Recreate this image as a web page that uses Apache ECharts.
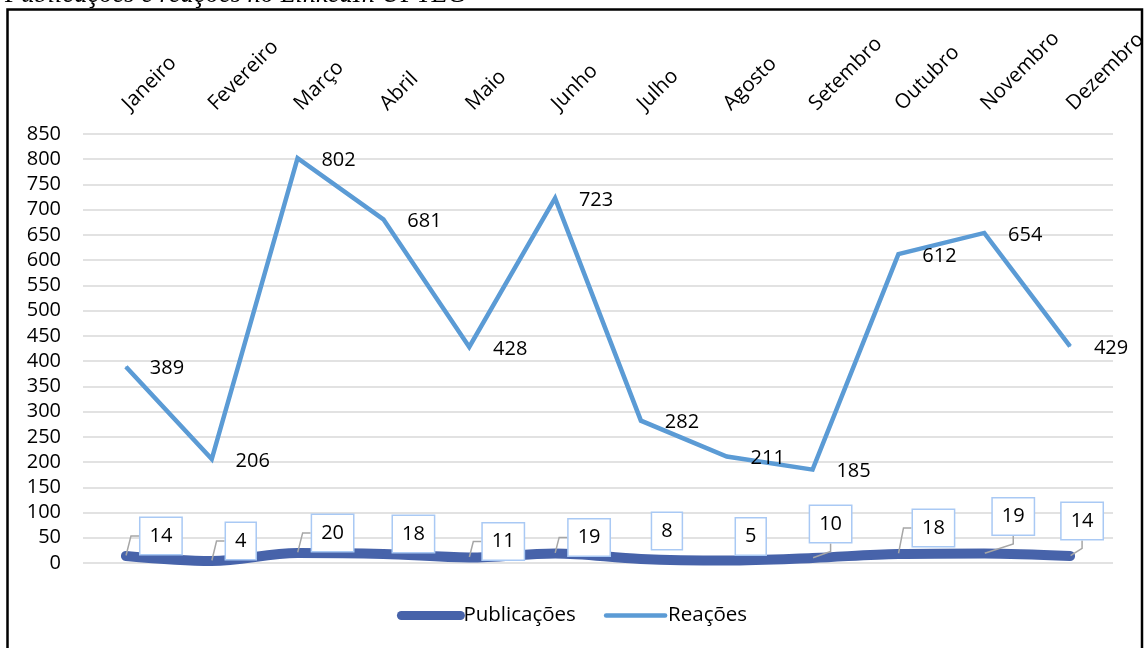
<!DOCTYPE html>
<html>
<head>
<meta charset="utf-8">
<script src="https://cdn.jsdelivr.net/npm/echarts@6/dist/echarts.min.js"></script>
<style>
  html, body { margin: 0; padding: 0; background: #fff; }
  #chart { width: 1144px; height: 648px; }
</style>
</head>
<body>
<div id="chart"></div>
<script>
// Monthly LinkedIn activity: posts published and reactions received
const months = ['Janeiro', 'Fevereiro', 'Março', 'Abril', 'Maio', 'Junho',
  'Julho', 'Agosto', 'Setembro', 'Outubro', 'Novembro', 'Dezembro'];
const publicacoes = [14, 4, 20, 18, 11, 19, 8, 5, 10, 18, 19, 14];
const reacoes = [389, 206, 802, 681, 428, 723, 282, 211, 185, 612, 654, 429];
const yTicks = { min: 0, max: 850, step: 50 };

// Callout placement for the boxed post-count labels (pixels from the point)
const pubLabelShift = [
  [35, -20], [29, -20], [35, -20], [30, -20], [34, -16], [34, -16],
  [26, -28], [24, -24], [18, -34], [35, -26], [29, -37], [12, -35]
];
// Which callouts get a leader line
const pubLeader = [true, true, true, false, true, true, false, false, true, true, true, true];

const font = 'Open Sans';
const pubColor = '#4763aa';
const reaColor = '#5b9bd5';
const chart = echarts.init(document.getElementById('chart'), null, { renderer: 'canvas' });

const pubData = publicacoes.map((v, i) => ({ value: v, labelLine: { show: pubLeader[i] } }));

chart.setOption({
  animation: false,
  backgroundColor: '#ffffff',
  grid: { left: 83, right: 31, top: 134, bottom: 85, outerBoundsMode: 'none', containLabel: false },
  xAxis: {
    type: 'category',
    position: 'top',
    data: months,
    boundaryGap: true,
    axisLine: { show: false },
    axisTick: { show: false },
    axisLabel: { rotate: 45, margin: 27, color: '#000', fontFamily: font, fontSize: 20.5 }
  },
  yAxis: {
    type: 'value',
    min: yTicks.min,
    max: yTicks.max,
    interval: yTicks.step,
    axisLine: { show: false },
    axisTick: { show: false },
    axisLabel: { margin: 22, color: '#000', fontFamily: font, fontSize: 20 },
    splitLine: { lineStyle: { color: '#d9d9d9', width: 1.5 } }
  },
  legend: {
    top: 600,
    left: 'center',
    itemWidth: 59,
    itemHeight: 14,
    itemGap: 28,
    textStyle: { fontFamily: font, fontSize: 20.5, color: '#000', padding: [0, 0, 0, -2] },
    data: [
      {
        name: 'Publicações',
        itemStyle: { opacity: 0 },
        lineStyle: { color: pubColor, width: 9, cap: 'round' }
      },
      {
        name: 'Reações',
        itemStyle: { opacity: 0 },
        lineStyle: { color: reaColor, width: 4.5, cap: 'round' }
      }
    ]
  },
  series: [
    {
      name: 'Reações',
      type: 'line',
      data: reacoes,
      smooth: false,
      symbol: 'circle',
      symbolSize: 1,
      showSymbol: true,
      itemStyle: { color: reaColor },
      lineStyle: { color: reaColor, width: 4.5, join: 'miter' },
      label: {
        show: true,
        position: 'inside',
        offset: [41, 2],
        color: '#000',
        fontFamily: font,
        fontSize: 20
      },
      emphasis: { disabled: true },
      z: 2
    },
    {
      name: 'Publicações',
      type: 'line',
      data: pubData,
      smooth: 0.35,
      symbol: 'circle',
      symbolSize: 1,
      showSymbol: true,
      itemStyle: { color: pubColor },
      lineStyle: { color: pubColor, width: 10, cap: 'round' },
      label: {
        show: true,
        position: 'inside',
        color: '#000',
        fontFamily: font,
        fontSize: 20,
        backgroundColor: '#fff',
        borderColor: '#a9c9f4',
        borderWidth: 1.5,
        padding: [8, 9, 8, 9]
      },
      labelLine: {
        show: true,
        length2: 8,
        lineStyle: { color: '#a6a6a6', width: 1.5 }
      },
      labelLayout: function (p) {
        const s = pubLabelShift[p.dataIndex] || [0, 0];
        return { dx: s[0], dy: s[1] };
      },
      emphasis: { disabled: true },
      z: 3
    }
  ],
  graphic: [
    {
      type: 'text',
      left: 5,
      top: -18,
      style: {
        text: 'Publicações e reações no LinkedIn UPTEC',
        font: 'italic 26.5px "Liberation Serif"',
        fill: '#000'
      },
      z: 10
    },
    {
      type: 'rect',
      shape: { x: 7.5, y: 9.5, width: 1134.5, height: 660 },
      style: { fill: 'none', stroke: '#000', lineWidth: 2.5 },
      silent: true,
      z: 10
    }
  ]
});
</script>
</body>
</html>
